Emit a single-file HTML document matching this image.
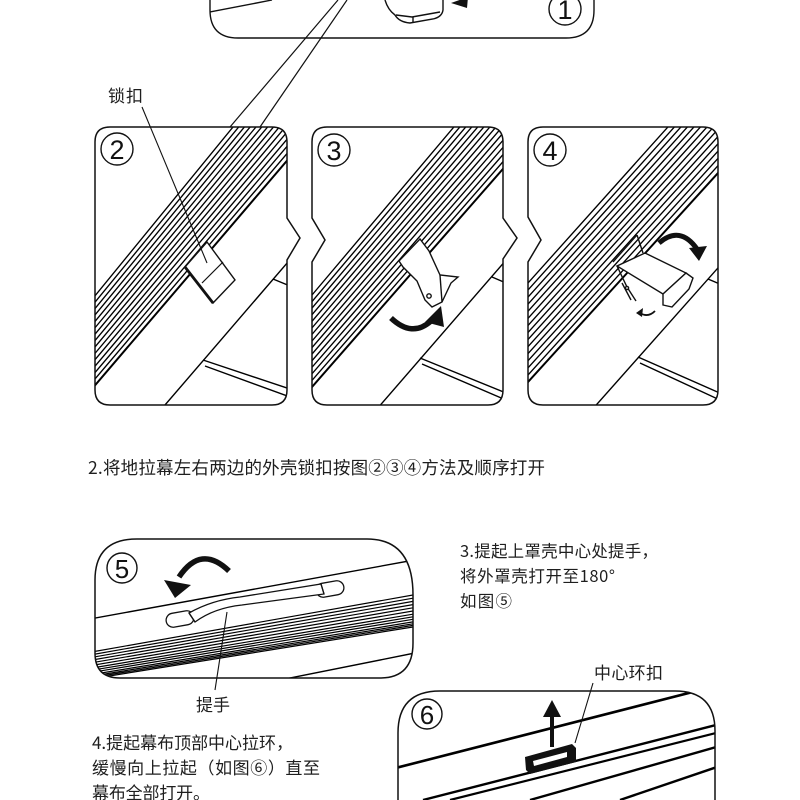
<!DOCTYPE html>
<html><head><meta charset="utf-8"><style>
html,body{margin:0;padding:0;background:#fff;}
svg{display:block;}
text{font-family:"Liberation Sans","Noto Sans CJK SC",sans-serif;fill:#1e1e1e;}
.cj{font-family:"Noto Sans CJK SC","Liberation Sans",sans-serif;}
.dg{font-family:"Liberation Sans",sans-serif;fill:#111;}
</style></head><body>
<svg width="800" height="800" viewBox="0 0 800 800" xmlns="http://www.w3.org/2000/svg">
<defs>
<clipPath id="c1"><path d="M210,-10 V10 Q210,38 238,38 H566 Q594,38 594,10 V-10 Z"/></clipPath>
<clipPath id="c2"><path d="M110,127 H272 Q287,127 287,142 V218 L300,238 L287,260 V390 Q287,405 272,405 H110 Q95,405 95,390 V142 Q95,127 110,127 Z"/></clipPath>
<clipPath id="c3"><path d="M327,127 H488 Q503,127 503,142 V218 L517,238 L503,259 V390 Q503,405 488,405 H327 Q312,405 312,390 V262 L325,240 L312,218 V142 Q312,127 327,127 Z"/></clipPath>
<clipPath id="c4"><path d="M543,127 H703 Q718,127 718,142 V390 Q718,405 703,405 H543 Q528,405 528,390 V262 L541,240 L528,217 V142 Q528,127 543,127 Z"/></clipPath>
<clipPath id="c5"><path d="M137,539 H367 Q413,539 413,595 V643 Q413,678 380,678 H120 Q95,678 95,653 V580 Q95,539 137,539 Z"/></clipPath>
<clipPath id="c6"><path d="M440,691 H675 Q715,691 715,731 V810 H398 V733 Q398,691 440,691 Z"/></clipPath>
</defs>

<rect width="800" height="800" fill="#fff"/>

<!-- Panel 1 -->
<g stroke="#111" fill="none" stroke-width="1.4">
<path d="M210,-10 V10 Q210,38 238,38 H566 Q594,38 594,10 V-10"/>
<g clip-path="url(#c1)">
<line x1="210" y1="12" x2="272" y2="0"/>
<path d="M385,0 Q388,10 395,15 Q399,22 410,23 L433,19 Q442,17 443,10 L443,0" fill="#fff"/>
<path d="M396,15 L412,17 L440,12"/>
<path d="M413,17 V23"/>
</g>
<circle cx="565" cy="9" r="16"/>
</g>
<polygon points="451,3 468,-3 467,8" fill="#111"/>
<text class="dg" x="565" y="19" font-size="27" text-anchor="middle">1</text>

<!-- Callout lines -->
<g stroke="#111" stroke-width="1.2">
<line x1="338" y1="0" x2="230" y2="127"/>
<line x1="347" y1="0" x2="260" y2="127"/>
</g>

<!-- Panel 2 -->
<g clip-path="url(#c2)" stroke="#000" fill="none">
<path stroke-width="1.35" d="M60,338.6L320,20.6M60,344.9L320,27.8M60,351.1L320,35.1M60,357.4L320,42.3M60,363.7L320,49.6M60,369.9L320,56.8M60,376.2L320,64.1M60,382.5L320,71.3M60,388.7L320,78.5M60,395L320,85.8M60,401.2L320,93M60,407.5L320,100.3M60,413.8L320,107.5M60,420L320,114.8"/>
<path stroke-width="2" d="M60,426.3L320,122"/>
<g stroke-width="1.4">
<line x1="165" y1="405" x2="300" y2="248"/>
<line x1="203" y1="360" x2="290" y2="389"/>
<line x1="205" y1="366" x2="290" y2="397"/>
<line x1="273" y1="279" x2="290" y2="286"/>
</g>
</g>
<g stroke="#111">
<polygon points="185,267 207,242 235,280 213,303" fill="#fff" stroke-width="1.4"/>
<line x1="202" y1="283" x2="223" y2="262" stroke-width="1.2"/>
<line x1="185" y1="267" x2="213" y2="303" stroke-width="2.8"/>
<path d="M110,127 H272 Q287,127 287,142 V218 L300,238 L287,260 V390 Q287,405 272,405 H110 Q95,405 95,390 V142 Q95,127 110,127 Z" fill="none" stroke-width="1.5"/>
<circle cx="117" cy="149" r="16" fill="none" stroke-width="1.4"/>
<line x1="142" y1="107" x2="207" y2="263" stroke-width="1.1"/>
</g>
<text class="dg" x="117" y="159" font-size="27" text-anchor="middle">2</text>
<text class="cj" x="108" y="102" font-size="17" textLength="35" lengthAdjust="spacing">锁扣</text>

<!-- Panel 3 -->
<g clip-path="url(#c3)" stroke="#000" fill="none">
<path stroke-width="1.35" d="M280,332.9L540,25M280,339.4L540,32.3M280,345.8L540,39.5M280,352.3L540,46.8M280,358.8L540,54M280,365.3L540,61.3M280,371.7L540,68.5M280,378.2L540,75.8M280,384.7L540,83.1M280,391.1L540,90.3M280,397.6L540,97.6M280,404.1L540,104.8M280,410.5L540,112.1M280,417L540,119.3"/>
<path stroke-width="2" d="M280,423.5L540,126.6"/>
<g stroke-width="1.4">
<line x1="370" y1="417" x2="520" y2="244"/>
<line x1="420" y1="358" x2="506" y2="393"/>
<line x1="422" y1="364" x2="506" y2="400"/>
<line x1="492" y1="277" x2="506" y2="283"/>
</g>
</g>
<g stroke="#111" stroke-width="1.4">
<polygon points="399,261 420,239 429,251 440,275 458,277 451,283 442,302 432,307 425,300 417,281 403,267" fill="#fff"/>
<line x1="440" y1="275" x2="442" y2="302"/>
<circle cx="429" cy="296" r="2.2" fill="#fff"/>
<path d="M327,127 H488 Q503,127 503,142 V218 L517,238 L503,259 V390 Q503,405 488,405 H327 Q312,405 312,390 V262 L325,240 L312,218 V142 Q312,127 327,127 Z" fill="none" stroke-width="1.5"/>
<circle cx="334" cy="150" r="16" fill="none"/>
</g>
<path d="M391,318 Q412,338 431,321" stroke="#111" stroke-width="5.5" fill="none"/>
<polygon points="425,322 441,306 444,327" fill="#111"/>
<text class="dg" x="334" y="160" font-size="27" text-anchor="middle">3</text>

<!-- Panel 4 -->
<g clip-path="url(#c4)" stroke="#000" fill="none">
<path stroke-width="1.35" d="M500,314.2L740,46.6M500,321.2L740,53.9M500,328.3L740,61.2M500,335.3L740,68.5M500,342.4L740,75.8M500,349.4L740,83.1M500,356.5L740,90.4M500,363.5L740,97.7M500,370.5L740,104.9M500,377.6L740,112.2M500,384.6L740,119.5M500,391.7L740,126.8M500,398.7L740,134.1M500,405.8L740,141.4"/>
<path stroke-width="2" d="M500,412.8L740,148.8"/>
<g stroke-width="1.4">
<line x1="590" y1="412" x2="725" y2="260"/>
<line x1="638" y1="357" x2="722" y2="394"/>
<line x1="640" y1="363" x2="722" y2="401"/>
<line x1="708" y1="279" x2="722" y2="285"/>
</g>
</g>
<g stroke="#111" stroke-width="1.4">
<line x1="613" y1="262" x2="637" y2="235"/>
<line x1="637" y1="235" x2="643" y2="253"/>
<polygon points="617,266 645,253 686,273 663,294" fill="#fff"/>
<polygon points="686,273 693,278 689,289 672,307 663,305 663,294" fill="#fff"/>
<polyline points="617,266 627,287 636,301" fill="none"/>
<line x1="622" y1="283" x2="631" y2="300"/>
<circle cx="627" cy="288" r="1.6" fill="#fff"/>
<path d="M655,311 Q648,318 640,313" fill="none" stroke-width="1.8"/>
<path d="M543,127 H703 Q718,127 718,142 V390 Q718,405 703,405 H543 Q528,405 528,390 V262 L541,240 L528,217 V142 Q528,127 543,127 Z" fill="none" stroke-width="1.5"/>
<circle cx="550" cy="150" r="16" fill="none"/>
</g>
<polygon points="636,313 643,308 642,317" fill="#111"/>
<path d="M659,243 Q680,225 697,249" stroke="#111" stroke-width="5" fill="none"/>
<polygon points="689,248 707,246 699,261" fill="#111"/>
<text class="dg" x="550" y="160" font-size="27" text-anchor="middle">4</text>

<!-- Step 2 text -->
<text class="cj" x="88" y="474" font-size="17.5" textLength="457" lengthAdjust="spacing">2.将地拉幕左右两边的外壳锁扣按图②③④方法及顺序打开</text>

<!-- Panel 5 -->
<g clip-path="url(#c5)" stroke="#000" fill="none">
<line x1="90" y1="619" x2="420" y2="559" stroke-width="1.4"/>
<path stroke-width="1.2" d="M95,651.4L413,595M95,654.1L413,598.2M95,656.8L413,601.4M95,659.5L413,604.6M95,662.2L413,607.8M95,664.9L413,611M95,667.5L413,614.2M95,669.7L413,616.8M95,671.8L413,619.3M95,674L413,621.9M95,675.6L413,623.8M95,677L413,625.4M95,678.3L413,627"/>
<line x1="285" y1="679" x2="420" y2="652" stroke-width="1.4"/>
</g>
<g stroke="#111" stroke-width="1.3" fill="#fff">
<rect x="166" y="612" width="28" height="14" rx="7" transform="rotate(-10 180 619)"/>
<rect x="316" y="582" width="28" height="14" rx="7" transform="rotate(-10 330 589)"/>
<path d="M189,613 Q212,600 240,597 L321,584 L324,594 L242,605 Q214,608 195,622 Z"/>
<line x1="189" y1="613" x2="195" y2="622"/>
<line x1="321" y1="584" x2="324" y2="594"/>
<path d="M137,539 H367 Q413,539 413,595 V643 Q413,678 380,678 H120 Q95,678 95,653 V580 Q95,539 137,539 Z" fill="none" stroke-width="1.5"/>
<circle cx="122" cy="568" r="15" fill="none" stroke-width="1.4"/>
<line x1="227" y1="612" x2="215" y2="690" fill="none" stroke-width="1.1"/>
</g>
<path d="M229,571 Q201,544 179,577" stroke="#111" stroke-width="5.5" fill="none"/>
<polygon points="164,580 191,585 175,598" fill="#111"/>
<text class="dg" x="122" y="578" font-size="26" text-anchor="middle">5</text>
<text class="cj" x="196" y="711" font-size="17" textLength="34" lengthAdjust="spacing">提手</text>

<!-- Step 3 text -->
<text class="cj" x="460" y="557" font-size="16.5" textLength="198" lengthAdjust="spacing">3.提起上罩壳中心处提手，</text>
<text class="cj" x="460" y="582" font-size="16.5" textLength="155" lengthAdjust="spacing">将外罩壳打开至180°</text>
<text class="cj" x="460" y="607" font-size="16.5" textLength="52" lengthAdjust="spacing">如图⑤</text>

<!-- Panel 6 -->
<g clip-path="url(#c6)" stroke="#000" fill="none">
<line x1="380" y1="772" x2="720" y2="685" stroke-width="2.6"/>
<line x1="423" y1="800" x2="720" y2="724" stroke-width="2.4"/>
<line x1="450" y1="800" x2="720" y2="732" stroke-width="2.2"/>
<line x1="530" y1="800" x2="720" y2="746" stroke-width="2.4"/>
<line x1="620" y1="800" x2="720" y2="766" stroke-width="2.4"/>
</g>
<g stroke="#111">
<path d="M440,691 H675 Q715,691 715,731 V810 M398,810 V733 Q398,691 440,691" fill="none" stroke-width="1.5"/>
<circle cx="427" cy="714" r="15" fill="none" stroke-width="1.4"/>
<line x1="593" y1="683" x2="575" y2="743" stroke-width="1.1"/>
</g>
<polygon points="525,757 572,744 576,748 576,762 530,774 526,770" fill="#111"/>
<polygon points="533,761 567,752 567,757 534,766" fill="#fff"/>
<line x1="552" y1="747" x2="552" y2="715" stroke="#111" stroke-width="4"/>
<polygon points="543,717 561,717 552,700" fill="#111"/>
<text class="dg" x="427" y="724" font-size="26" text-anchor="middle">6</text>
<text class="cj" x="594" y="679" font-size="17" textLength="69" lengthAdjust="spacing">中心环扣</text>

<!-- Step 4 text -->
<text class="cj" x="92" y="749" font-size="17" textLength="201" lengthAdjust="spacing">4.提起幕布顶部中心拉环，</text>
<text class="cj" x="92" y="774" font-size="17" textLength="228" lengthAdjust="spacing">缓慢向上拉起（如图⑥）直至</text>
<text class="cj" x="92" y="799" font-size="17" textLength="118" lengthAdjust="spacing">幕布全部打开。</text>
</svg>
</body></html>
